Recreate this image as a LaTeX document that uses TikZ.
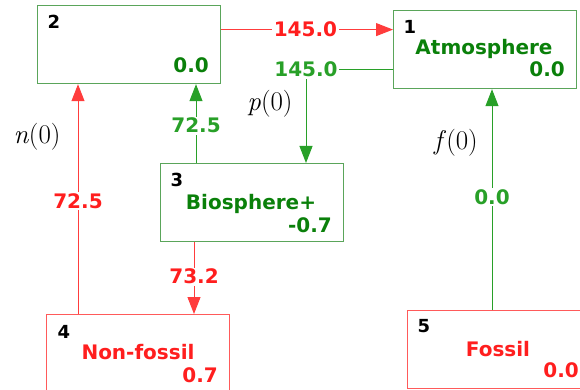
\documentclass[tikz,border=0pt]{standalone}
\usepackage{fontspec}
\setsansfont{DejaVu Sans}
\usetikzlibrary{arrows.meta}
\definecolor{gline}{RGB}{40,160,40}
\definecolor{gbord}{RGB}{90,165,90}
\definecolor{gtext}{RGB}{10,128,10}
\definecolor{rtext}{RGB}{255,30,30}
\definecolor{rline}{RGB}{255,60,60}
\definecolor{rbord}{RGB}{255,90,90}

\begin{document}
\begin{tikzpicture}[
            x=1pt, y=-1pt,
            >={Triangle[length=17pt,width=13pt]},
            box/.style={draw, line width=1.2pt, minimum width=183pt, minimum height=78pt,
                anchor=north west, inner sep=0pt},
            gbox/.style={box, draw=gbord},
            rbox/.style={box, draw=rbord},
            idx/.style={font=\sffamily\bfseries\fontsize{18}{20}\selectfont, inner sep=0pt},
            pool/.style={font=\sffamily\bfseries\fontsize{20}{24}\selectfont, anchor=base, inner sep=0pt},
            val/.style={pool, anchor=base east},
            flow/.style={font=\sffamily\bfseries\fontsize{20}{24}\selectfont, fill=white, inner sep=1.5pt},
            rate/.style={font=\rmfamily\fontsize{27}{30}\selectfont, inner sep=0pt},
            gflow/.style={draw=gline, line width=1pt},
            rflow/.style={draw=rline, line width=1pt}
        ]
            \clip (0,0) rectangle (580,390);
            % pools
            \node[gbox] (atm) at (393,10) {};
            \node[gbox] (mid) at (37,5) {};
            \node[gbox] (bio) at (160,163) {};
            \node[rbox] (nonf) at (46,314) {};
            \node[rbox] (fos) at (407,310) {};
            % pool texts
            \node[idx] (atm-i) at (410,27) {1};
            \node[pool, text=gtext] (atm-n) at (484,55) {Atmosphere};
            \node[val, text=gtext] (atm-v) at (565,77) {0.0};
            \node[idx] (mid-i) at (54,22) {2};
            \node[val, text=gtext] (mid-v) at (209,73) {0.0};
            \node[idx] (bio-i) at (177,180) {3};
            \node[pool, text=gtext] (bio-n) at (251,209) {Biosphere+};
            \node[val, text=gtext] (bio-v) at (332,232) {-0.7};
            \node[idx] (nonf-i) at (64,332) {4};
            \node[pool, text=rtext] (nonf-n) at (138,359) {Non-fossil};
            \node[val, text=rtext] (nonf-v) at (218,382) {0.7};
            \node[idx] (fos-i) at (424,326) {5};
            \node[pool, text=rtext] (fos-n) at (498,356) {Fossil};
            \node[val, text=rtext] (fos-v) at (579,377) {0.0};
            % flows
            \draw[rflow,->] ([yshift=15pt]mid.east) -- ([yshift=20pt]atm.west)
            node[flow, text=rtext, pos=0.49] {145.0};
            \draw[gflow,->] ([yshift=-20pt]atm.west) -| ([xshift=146pt]bio.north west)
            node[flow, text=gline, pos=0.5] {145.0};
            \draw[gflow,->] ([xshift=36pt]bio.north west) -- ([xshift=159pt]mid.south west)
            node[flow, text=gline, pos=0.475] {72.5};
            \draw[rflow,->] ([xshift=32pt]nonf.north west) -- ([xshift=41pt]mid.south west)
            node[flow, text=rtext, pos=0.49] {72.5};
            \draw[rflow,->] ([xshift=34pt]bio.south west) -- ([xshift=148pt]nonf.north west)
            node[flow, text=rtext, pos=0.48] {73.2};
            \draw[gflow,->] ([xshift=85pt]fos.north west) -- ([xshift=99pt]atm.south west)
            node[flow, text=gline, pos=0.51] {0.0};
            % rates
            \node[rate] (nrate) at (37,137) {\textit{n}(0)};
            \node[rate] (prate) at (270,104) {\textit{p}(0)};
            \node[rate] (frate) at (456,143) {\textit{f}(0)};
        \end{tikzpicture}
\end{document}
